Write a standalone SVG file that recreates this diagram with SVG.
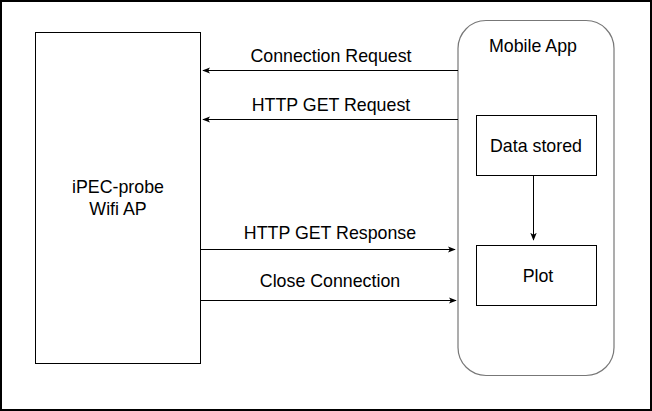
<svg xmlns="http://www.w3.org/2000/svg" width="652" height="411" viewBox="0 0 652 411">
<style>
text{font-family:"Liberation Sans",Arial,sans-serif;font-size:17.8px;fill:#000;text-anchor:middle}
.box{fill:#fff;stroke:#000;stroke-width:1}
.con{fill:none;stroke:#000;stroke-width:1}
</style>
<defs>
<marker id="ah" viewBox="0 0 10 10" refX="9" refY="5" markerWidth="8" markerHeight="8" markerUnits="userSpaceOnUse" orient="auto">
<path d="M0,1 L10,5 L0,9 L2.5,5 Z" fill="#000"/>
</marker>
</defs>
<rect x="0" y="0" width="652" height="411" fill="#fff"/>
<rect x="1" y="1" width="650" height="409" fill="none" stroke="#000" stroke-width="2"/>
<g id="probe">
<rect class="box" x="35.5" y="32.5" width="165" height="331"/>
<text x="118" y="193">iPEC-probe</text>
<text x="118" y="215">Wifi AP</text>
</g>
<g id="mobile">
<rect x="458" y="20.5" width="156" height="355" rx="28" ry="28" fill="#fff" stroke="#777" stroke-width="1.2"/>
<text x="533" y="52">Mobile App</text>
</g>
<g id="data">
<rect class="box" x="476.5" y="115.5" width="120" height="60"/>
<text x="536" y="152">Data stored</text>
</g>
<g id="plot">
<rect class="box" x="476.5" y="245.5" width="120" height="60"/>
<text x="538" y="282">Plot</text>
</g>
<g id="connectors">
<line class="con" x1="458" y1="70.5" x2="203" y2="70.5" marker-end="url(#ah)"/>
<line class="con" x1="458" y1="119.5" x2="203" y2="119.5" marker-end="url(#ah)"/>
<line class="con" x1="200" y1="249.5" x2="455" y2="249.5" marker-end="url(#ah)"/>
<line class="con" x1="200" y1="300.5" x2="456" y2="300.5" marker-end="url(#ah)"/>
<line class="con" x1="533.5" y1="176" x2="533.5" y2="240" marker-end="url(#ah)"/>
<text x="331" y="62">Connection Request</text>
<text x="331" y="111">HTTP GET Request</text>
<text x="330" y="239">HTTP GET Response</text>
<text x="330" y="287">Close Connection</text>
</g>
</svg>
